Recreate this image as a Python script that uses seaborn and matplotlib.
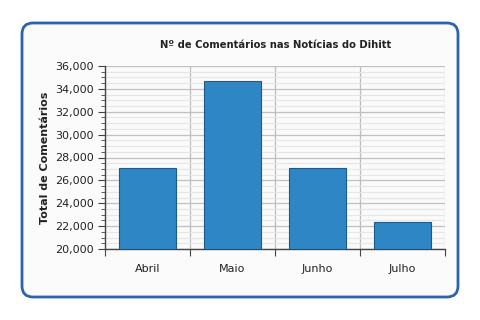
import matplotlib
matplotlib.use("Agg")
import matplotlib.pyplot as plt
import seaborn as sns
import pandas as pd
from matplotlib.patches import FancyBboxPatch
from matplotlib.ticker import MultipleLocator, FuncFormatter, FixedLocator

months = ["Abril", "Maio", "Junho", "Julho"]
comments = [27100, 34700, 27100, 22350]
title = "Nº de Comentários nas Notícias do Dihitt"
ylabel = "Total de Comentários"

df = pd.DataFrame({"mes": months, "total": comments})

sns.set_theme(style="white")
plt.rcParams["font.family"] = ["DejaVu Sans"]

fig = plt.figure(figsize=(4.8, 3.2), dpi=100)
fig.patch.set_facecolor("white")

# rounded frame in pixel coords
frame = FancyBboxPatch((22, 320 - 297), 436, 274,
                       boxstyle="round,pad=0,rounding_size=11",
                       transform=None, facecolor="#fbfbfb",
                       edgecolor="#2b64ad", linewidth=2, zorder=-5)
fig.patches.append(frame)

ax = fig.add_axes([105 / 480, (320 - 249) / 320, 340 / 480, 183 / 320])
ax.set_zorder(2)
ax.set_facecolor("#fafafa")

sns.barplot(data=df, x="mes", y="total", color="#2f86c4", width=0.67,
            saturation=1, ax=ax, zorder=3)
for p in ax.patches:
    p.set_edgecolor("#1d5a8a")
    p.set_linewidth(0.8)

ax.set_ylim(20000, 36000)
ax.set_xlim(-0.5, 3.5)
ax.yaxis.set_major_locator(MultipleLocator(2000))
ax.yaxis.set_minor_locator(MultipleLocator(500))
ax.yaxis.set_major_formatter(FuncFormatter(lambda v, p: f"{int(v):,}"))
ax.xaxis.set_minor_locator(FixedLocator([-0.5, 0.5, 1.5, 2.5, 3.5]))

ax.grid(which="major", axis="y", color="#c0c0c0", linewidth=0.9, zorder=0)
ax.grid(which="minor", axis="y", color="#e6e6e6", linewidth=0.8, zorder=0)
ax.grid(which="minor", axis="x", color="#bcbcbc", linewidth=0.9, zorder=0)
ax.set_axisbelow(True)

for s in ["top", "right"]:
    ax.spines[s].set_visible(False)
for s in ["left", "bottom"]:
    ax.spines[s].set_color("#444444")
    ax.spines[s].set_linewidth(1)

ax.tick_params(axis="y", which="major", left=True, length=5, width=0.8,
               color="#444444", labelsize=8, labelcolor="#222222", pad=3)
ax.tick_params(axis="y", which="minor", left=True, length=3, width=0.6,
               color="#444444")
ax.tick_params(axis="x", which="major", bottom=False, labelsize=8,
               labelcolor="#222222", pad=5)
ax.tick_params(axis="x", which="minor", bottom=True, length=5, width=0.8,
               color="#444444")

ax.set_xlabel("")
ax.set_ylabel(ylabel, fontsize=8, fontweight="bold", color="#222222", labelpad=4)
fig.text(276 / 480, 1 - 45 / 320, title, ha="center", va="center",
         fontsize=7.2, fontweight="bold", color="#222222")

fig.savefig("out.png", dpi=100)
